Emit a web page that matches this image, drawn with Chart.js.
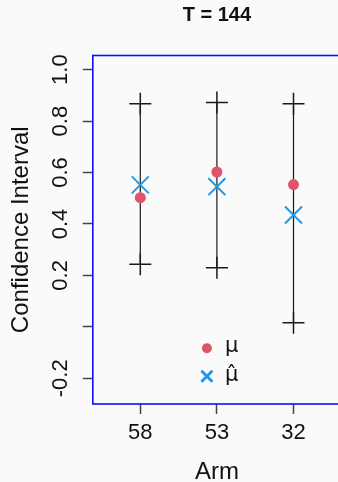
<!DOCTYPE html>
<html><head><meta charset="utf-8">
<script src="https://cdn.jsdelivr.net/npm/chart.js@4.4.0/dist/chart.umd.min.js"></script>
<style>
html,body{margin:0;padding:0;background:#fafafa;overflow:hidden;width:338px;height:482px;}
#wrap{position:absolute;left:0;top:0;width:341px;height:482px;}
canvas{display:block;}
</style></head><body>
<div id="wrap"><canvas id="c" width="341" height="482" style="width:341px;height:482px"></canvas></div>
<script>
// ---- data ----
const titleText = 'T = 144';
const arms = ['58', '53', '32'];
const armPos = [1, 2, 3];
const ciUpper = [0.867, 0.872, 0.867];
const ciLower = [0.243, 0.230, 0.016];
const muTrue = [0.502, 0.602, 0.553];
const muHat = [0.552, 0.545, 0.435];
const yTickValues = [-0.2, 0, 0.2, 0.4, 0.6, 0.8, 1.0];
const yTickLabels = ['-0.2', '', '0.2', '0.4', '0.6', '0.8', '1.0'];
const legendLabels = ['μ', 'μ̂'];

const FONT = '"Liberation Sans", Arial, sans-serif';
const RED = '#DF536B', BLUE = '#2297E6', INK = '#1a1a1a';

const ciSets = armPos.map((x, i) => ({
  type: 'line',
  data: [{x: x, y: ciLower[i]}, {x: x, y: ciUpper[i]}],
  borderColor: INK, borderWidth: 1.2,
  pointStyle: 'cross', pointRadius: 11, pointHoverRadius: 11,
  pointBorderWidth: 1.5, pointBorderColor: INK, pointBackgroundColor: INK,
  order: 3
}));
const muSet = {
  type: 'scatter',
  data: armPos.map((x, i) => ({x: x, y: muTrue[i]})),
  pointStyle: 'circle', pointRadius: 5.5, pointHoverRadius: 5.5,
  backgroundColor: RED, pointBackgroundColor: RED, borderColor: RED, pointBorderColor: RED, pointBorderWidth: 0,
  order: 2
};
const hatSet = {
  type: 'scatter',
  data: armPos.map((x, i) => ({x: x, y: muHat[i]})),
  pointStyle: 'crossRot', pointRadius: 12, pointHoverRadius: 12,
  borderColor: BLUE, pointBorderColor: BLUE, pointBorderWidth: 2,
  order: 1
};

const bgPlugin = {
  id: 'bg',
  beforeDraw(chart) {
    const c = chart.ctx;
    c.save(); c.fillStyle = '#fafafa'; c.fillRect(0, 0, chart.width, chart.height); c.restore();
  }
};
const boxPlugin = {
  id: 'box',
  afterDraw(chart) {
    const {ctx, chartArea: a, scales} = chart;
    ctx.save();
    ctx.strokeStyle = '#1010ff'; ctx.lineWidth = 1.6;
    ctx.strokeRect(a.left, a.top, a.right - a.left, a.bottom - a.top);
    // rotated y tick labels
    ctx.fillStyle = '#111';
    ctx.font = '22px ' + FONT;
    ctx.textAlign = 'center'; ctx.textBaseline = 'alphabetic';
    yTickValues.forEach((v, i) => {
      const py = scales.y.getPixelForValue(v);
      ctx.save();
      ctx.translate(a.left - 26, py);
      ctx.rotate(-Math.PI / 2);
      ctx.fillText(yTickLabels[i], 0, 0);
      ctx.restore();
    });
    // legend
    const mx = (a.left + a.right) / 2;
    const sx = mx - 10, tx = mx + 8;
    const r1 = a.bottom - 55.7, r2 = a.bottom - 27.7;
    ctx.fillStyle = RED;
    ctx.beginPath(); ctx.arc(sx, r1, 5, 0, Math.PI * 2); ctx.fill();
    ctx.strokeStyle = BLUE; ctx.lineWidth = 3;
    ctx.beginPath();
    ctx.moveTo(sx - 5.5, r2 - 5.5); ctx.lineTo(sx + 5.5, r2 + 5.5);
    ctx.moveTo(sx + 5.5, r2 - 5.5); ctx.lineTo(sx - 5.5, r2 + 5.5);
    ctx.stroke();
    ctx.fillStyle = '#111';
    ctx.font = '21px "DejaVu Sans", sans-serif';
    ctx.textAlign = 'left'; ctx.textBaseline = 'alphabetic';
    ctx.fillText(legendLabels[0], tx, r1 + 4);
    ctx.fillText(legendLabels[1], tx, r2 + 5);
    ctx.restore();
  }
};

new Chart(document.getElementById('c'), {
  type: 'scatter',
  data: { datasets: [hatSet, muSet, ...ciSets] },
  options: {
    responsive: false, animation: false, devicePixelRatio: 1,
    layout: { padding: 0, autoPadding: false },
    plugins: {
      legend: { display: false },
      tooltip: { enabled: false },
      title: {
        display: true, text: titleText, fullSize: false, color: '#111',
        font: { family: FONT, size: 20, weight: 'bold', lineHeight: 1.2 },
        padding: { top: 3.5, bottom: 28 }
      }
    },
    scales: {
      x: {
        type: 'linear', min: 0.38, max: 3.62,
        afterBuildTicks: s => { s.ticks = armPos.map(v => ({value: v})); },
        afterFit: s => { s.height = 78; s.paddingLeft = 0; s.paddingRight = 0; },
        grid: { drawOnChartArea: false, drawTicks: true, tickLength: 10, tickColor: '#444', tickWidth: 1.5 },
        border: { display: false },
        ticks: {
          color: '#111', font: { family: FONT, size: 22 }, padding: 5.5, maxRotation: 0, autoSkip: false,
          callback: v => { const k = armPos.indexOf(v); return k >= 0 ? arms[k] : ''; }
        },
        title: { display: true, text: 'Arm', color: '#111',
          font: { family: FONT, size: 24, lineHeight: 0.8 }, padding: { top: 0, bottom: 0 } }
      },
      y: {
        type: 'linear', min: -0.3, max: 1.055,
        afterBuildTicks: s => { s.ticks = yTickValues.map(v => ({value: v})); },
        afterFit: s => { s.width = 92.8; s.paddingTop = 0; s.paddingBottom = 0; },
        grid: { drawOnChartArea: false, drawTicks: true, tickLength: 10, tickColor: '#444', tickWidth: 1.5 },
        border: { display: false },
        ticks: { display: false },
        title: { display: true, text: 'Confidence Interval', color: '#111',
          font: { family: FONT, size: 24, lineHeight: 1.2 }, padding: { top: 7, bottom: 0 } }
      }
    }
  },
  plugins: [bgPlugin, boxPlugin]
});
</script>
</body></html>
